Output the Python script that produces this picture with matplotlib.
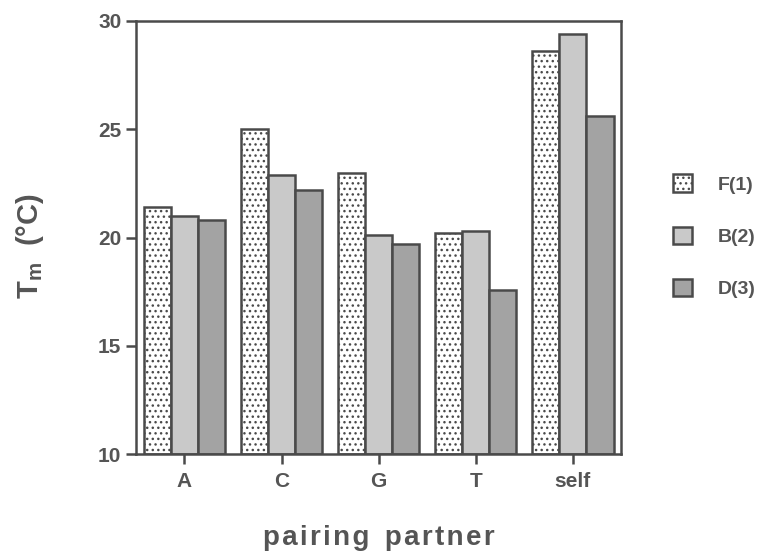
import numpy as np
import matplotlib.pyplot as plt

# Schmelztemperaturen je Paarungspartner
partners = ["A", "C", "G", "T", "self"]
series_labels = ["F(1)", "B(2)", "D(3)"]
tm_F = [21.4, 25.0, 23.0, 20.2, 28.6]
tm_B = [21.0, 22.9, 20.1, 20.3, 29.4]
tm_D = [20.8, 22.2, 19.7, 17.6, 25.6]

plt.rcParams["font.family"] = ["Liberation Sans", "DejaVu Sans"]
plt.rcParams["hatch.color"] = "#777777"
plt.rcParams["hatch.linewidth"] = 1.0

text_col = "#555555"
edge_col = "#4a4a4a"

fig = plt.figure(figsize=(7.68, 5.6), dpi=100)
ax = fig.add_axes([0.177, 0.189, 0.632, 0.7735])

x = np.arange(len(partners))
w = 0.28
styles = [
    dict(color="white", hatch="..."),
    dict(color="#c9c9c9", hatch=None),
    dict(color="#a3a3a3", hatch=None),
]
for i, (vals, lab, st) in enumerate(zip([tm_F, tm_B, tm_D], series_labels, styles)):
    ax.bar(x + (i - 1) * w, np.array(vals) - 10, w, bottom=10,
           facecolor=st["color"], hatch=st["hatch"],
           edgecolor=edge_col, linewidth=1.8, label=lab)

ax.set_xlim(-0.5, 4.5)
ax.set_ylim(10, 30)
ax.set_yticks([10, 15, 20, 25, 30])
ax.set_xticks(x)
ax.set_xticklabels(partners)

for sp in ax.spines.values():
    sp.set_color(edge_col)
    sp.set_linewidth(1.8)

ax.tick_params(axis="both", direction="out", length=7, width=1.8,
               color=edge_col, labelcolor=text_col, labelsize=15)
ax.tick_params(axis="x", pad=6)
for t in ax.get_xticklabels() + ax.get_yticklabels():
    t.set_fontweight("bold")

# etwas gesperrte Schrift wie im Original
xlab = "\u200a".join("pairing") + "  " + "\u200a".join("partner")
ax.set_xlabel(xlab, fontsize=20, fontweight="bold", color=text_col, labelpad=24)
ax.set_ylabel(r"T$_\mathregular{m}$  (°C)", fontsize=21, fontweight="bold",
              color=text_col, labelpad=32)
ax.yaxis.set_label_coords(-0.185, 0.48)

leg = ax.legend(loc="center left", bbox_to_anchor=(1.09, 0.503), frameon=False,
                fontsize=14, labelspacing=1.7, handlelength=1.0, handleheight=1.0,
                handletextpad=1.3, borderaxespad=0)
for t in leg.get_texts():
    t.set_color(text_col)
    t.set_fontweight("bold")

fig.savefig("out.png", dpi=100)
